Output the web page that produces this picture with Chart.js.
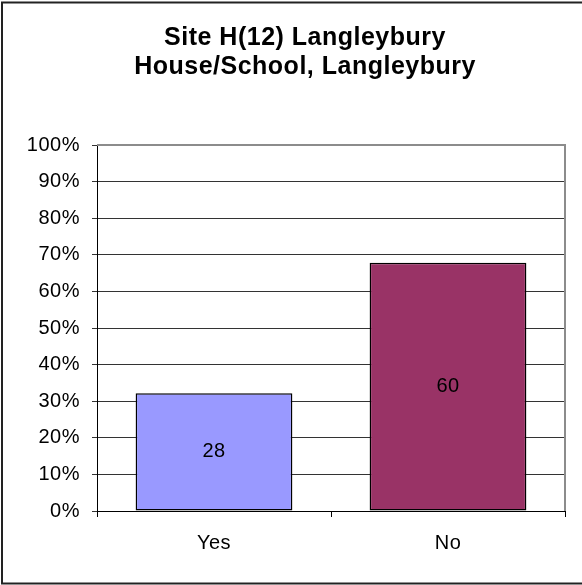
<!DOCTYPE html>
<html>
<head>
<meta charset="utf-8">
<script src="https://cdn.jsdelivr.net/npm/chart.js@4/dist/chart.umd.min.js"></script>
<style>
  html, body { margin: 0; padding: 0; background: #fff; }
  #wrap { width: 582px; height: 585px; position: relative; }
</style>
</head>
<body>
<div id="wrap"><canvas id="my-chart" width="582" height="585"></canvas></div>
<script>
// values
const categories = ['Yes', 'No'];
const counts = [28, 60];            // numbers printed inside the bars
const percentages = [32.2, 67.8];   // bar heights, % of answers
const titleLines = ['Site H(12) Langleybury', 'House/School, Langleybury'];
const barColours = ['#9999FF', '#993366'];

const FONT = "'Liberation Sans', Arial, sans-serif";

// slightly wider text like the original renderer
const spacing = {
  id: 'spacing',
  beforeLayout(chart) { chart.ctx.letterSpacing = '0.5px'; },
  beforeDraw(chart) { chart.ctx.letterSpacing = '0.5px'; }
};

// the original chart is wider than the picture, so its title sits right of centre
const titleShift = {
  id: 'titleShift',
  afterLayout(chart) {
    if (chart.titleBlock) {
      chart.titleBlock.left = 0;
      chart.titleBlock.right = 610;
    }
  }
};

// counts in the middle of each bar
const barLabels = {
  id: 'barLabels',
  afterDatasetsDraw(chart) {
    const ctx = chart.ctx;
    const meta = chart.getDatasetMeta(0);
    ctx.save();
    ctx.font = '20px ' + FONT;
    ctx.fillStyle = '#000';
    ctx.textAlign = 'center';
    ctx.textBaseline = 'middle';
    meta.data.forEach((bar, i) => {
      ctx.fillText(String(counts[i]), bar.x, (bar.y + bar.base) / 2);
    });
    ctx.restore();
  }
};

// grey plot frame (top/right) and the outer chart border
const frames = {
  id: 'frames',
  afterDraw(chart) {
    const ctx = chart.ctx;
    const a = chart.chartArea;
    ctx.save();
    ctx.strokeStyle = '#8c8c8c';
    ctx.lineWidth = 2;
    ctx.beginPath();
    ctx.moveTo(a.left, a.top);
    ctx.lineTo(a.right, a.top);
    ctx.lineTo(a.right, a.bottom);
    ctx.stroke();
    ctx.strokeStyle = '#222';
    ctx.lineWidth = 2;
    ctx.strokeRect(2, 2.5, 600, 581);
    ctx.restore();
  }
};

const ctx = document.getElementById('my-chart').getContext('2d');
const chart = new Chart(ctx, {
  type: 'bar',
  data: {
    labels: categories,
    datasets: [{
      data: percentages,
      backgroundColor: barColours,
      borderColor: '#000',
      borderWidth: 1.5,
      borderSkipped: false,
      barPercentage: 0.67,
      categoryPercentage: 1
    }]
  },
  options: {
    responsive: false,
    animation: false,
    events: [],
    layout: { padding: { left: 0, right: 17, top: 0, bottom: 0 } },
    plugins: {
      legend: { display: false },
      tooltip: { enabled: false },
      title: {
        display: true,
        text: titleLines,
        color: '#000',
        font: { family: FONT, size: 25, weight: 'bold', lineHeight: 1.14 },
        padding: { top: 24, bottom: 64 }
      }
    },
    scales: {
      x: {
        grid: { drawOnChartArea: false, drawTicks: true, tickLength: 6, color: '#000' },
        border: { color: '#000', width: 1 },
        ticks: { color: '#000', font: { family: FONT, size: 20 }, padding: 14 },
        afterFit(scale) { scale.height = 74; }
      },
      y: {
        min: 0,
        max: 100,
        grid: { color: '#333', tickLength: 5, lineWidth: 1 },
        border: { color: '#000', width: 1 },
        ticks: {
          stepSize: 10,
          color: '#000',
          padding: 12,
          font: { family: FONT, size: 20 },
          callback: v => v + '%'
        },
        afterFit(scale) { scale.width = 97; }
      }
    }
  },
  plugins: [spacing, titleShift, barLabels, frames]
});
</script>
</body>
</html>
